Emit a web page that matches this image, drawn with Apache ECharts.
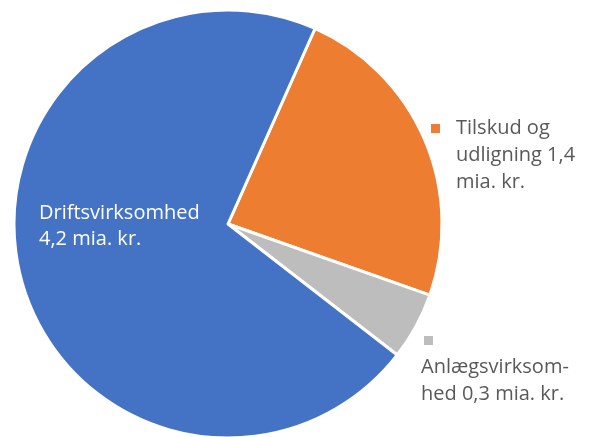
<!DOCTYPE html>
<html>
<head>
<meta charset="utf-8">
<script src="https://cdn.jsdelivr.net/npm/echarts@6/dist/echarts.min.js"></script>
<style>html,body{margin:0;padding:0;background:#fff;}#c{width:592px;height:437px;}</style>
</head>
<body>
<div id="c"></div>
<script>
const categories = ['Tilskud og udligning', 'Anlægsvirksomhed', 'Driftsvirksomhed'];
const values = [1.4, 0.3, 4.2];
const labelLines = [
  ['Tilskud og', 'udligning 1,4', 'mia. kr.'],
  ['Anlægsvirksom-', 'hed 0,3 mia. kr.'],
  ['Driftsvirksomhed', '4,2 mia. kr.']
];
const colors = ['#ED7D31', '#BDBDBD', '#4472C4'];

const FONT = 'Open Sans';
const labelPos = [
  {x: 431, y: 115},
  {x: 421, y: 327},
  {x: 39, y: 200}
];

const chart = echarts.init(document.getElementById('c'), null, {renderer: 'canvas'});
chart.setOption({
  animation: false,
  backgroundColor: '#ffffff',
  series: [{
    type: 'pie',
    center: [228, 224],
    radius: 214,
    startAngle: 66,
    clockwise: true,
    avoidLabelOverlap: false,
    data: categories.map((c, i) => ({name: c, value: values[i], itemStyle: {color: colors[i]}})),
    itemStyle: {borderColor: '#ffffff', borderWidth: 3},
    labelLine: {show: false},
    label: {
      show: true,
      position: 'inside',
      formatter: function (p) {
        const L = labelLines[p.dataIndex];
        if (p.dataIndex === 0) {
          return '{m|}{g|}{t|' + L[0] + '}\n' + L.slice(1).map(s => '{s|}{t|' + s + '}').join('\n');
        } else if (p.dataIndex === 1) {
          return '{g2|}{m|}\n' + L.map(s => '{t|' + s + '}').join('\n');
        }
        return L.map(s => '{w|' + s + '}').join('\n');
      },
      rich: {
        m: {width: 9, height: 9, backgroundColor: 'inherit', lineHeight: 27},
        g: {width: 16, lineHeight: 27},
        g2: {width: 3, lineHeight: 27},
        s: {width: 25, lineHeight: 27},
        t: {color: '#595959', fontFamily: FONT, fontSize: 20, lineHeight: 27},
        w: {color: '#ffffff', fontFamily: FONT, fontSize: 20, lineHeight: 26}
      }
    },
    labelLayout: function (params) {
      const p = labelPos[params.dataIndex];
      return {x: p.x, y: p.y, align: 'left', verticalAlign: 'top'};
    }
  }]
});
</script>
</body>
</html>
